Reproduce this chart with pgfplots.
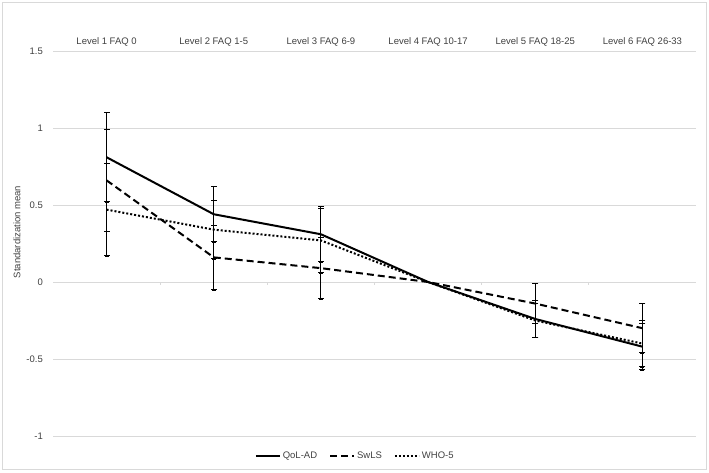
\documentclass[border=0pt]{standalone}
\usepackage{fontspec}
\setmainfont{Liberation Sans}
\usepackage{pgfplots}
\usepackage{pgfplotstable}
\pgfplotsset{compat=1.18}

\definecolor{gridgray}{RGB}{217,217,217}
\definecolor{txt}{RGB}{64,64,64}

% level, mean, error
\pgfplotstableread{
x y e
0 0.81 0.29
1 0.44 0.18
2 0.31 0.18
3 0.00 0.00
4 -0.24 0.12
5 -0.42 0.15
}\qol
\pgfplotstableread{
x y e
0 0.66 0.33
1 0.16 0.21
2 0.09 0.20
3 0.00 0.00
4 -0.14 0.13
5 -0.30 0.16
}\swls
\pgfplotstableread{
x y e
0 0.47 0.30
1 0.34 0.19
2 0.27 0.21
3 0.00 0.00
4 -0.25 0.11
5 -0.40 0.15
}\who

\newcommand{\lblfont}{\fontsize{9.5}{11}\selectfont}

\pgfplotsset{
  errbars/.style={forget plot, draw=none, mark=none,
    x filter/.expression={x==3 ? nan : x},
    error bars/.cd, y dir=both, y explicit,
    error bar style={draw=black, solid, line width=1pt}},
  caps/.style={forget plot, only marks, mark=-, mark size=3pt,
    mark options={draw=black, solid, line width=1pt},
    x filter/.expression={x==3 ? nan : x}},
}

\begin{document}
\begin{tikzpicture}[x=1pt,y=1pt]
\useasboundingbox (0,0) rectangle (709,472);
\draw[gridgray, line width=0.8pt] (2.5,2.5) rectangle (706.5,469.5);
\begin{axis}[
  at={(53pt,36pt)}, anchor=south west,
  scale only axis, width=643pt, height=385pt,
  xmin=-0.5, xmax=5.5, ymin=-1, ymax=1.5,
  ytick={-1,-0.5,0,0.5,1,1.5},
  yticklabels={-1,-0.5,0,0.5,1,1.5},
  xtick={0,1,2,3,4,5},
  xticklabels={Level 1 FAQ 0,Level 2 FAQ 1-5,Level 3 FAQ 6-9,Level 4 FAQ 10-17,Level 5 FAQ 18-25,Level 6 FAQ 26-33},
  xticklabel pos=upper,
  axis line style={draw=none},
  major tick length=0pt,
  ymajorgrids, grid style={gridgray, line width=0.9pt},
  tick label style={font=\lblfont, text=txt},
  yticklabel style={inner sep=0pt, xshift=-10pt},
  xticklabel style={inner sep=0pt, yshift=5pt},
  legend columns=3,
  legend cell align=left,
  legend image code/.code={\draw[#1] (0pt,0pt) -- (24pt,0pt);},
  legend style={at={(0.47,-0.052)}, anchor=center, draw=none, fill=none,
    font=\lblfont, text=txt, inner sep=0pt,
    /tikz/every even column/.append style={column sep=10pt}},
  clip=false,
]
\pgfplotsinvokeforeach{0.5,1.5,2.5,3.5,4.5}{
  \draw[gridgray, line width=0.8pt] (axis cs:#1,0) -- ++(0pt,-3pt);
}
\addplot[black, line width=2pt, mark=none] table[x=x, y=y] {\qol};
\addplot[black, line width=2pt, mark=none, dash pattern=on 7pt off 4pt] table[x=x, y=y] {\swls};
\addplot[black, line width=2pt, mark=none, dash pattern=on 2pt off 2pt] table[x=x, y=y] {\who};
\legend{QoL-AD, SwLS, WHO-5}
% error bars and their caps
\addplot[errbars] table[x=x, y=y, y error=e] {\qol};
\addplot[errbars] table[x=x, y=y, y error=e] {\swls};
\addplot[errbars] table[x=x, y=y, y error=e] {\who};
\addplot[caps] table[x=x, y expr=\thisrow{y}+\thisrow{e}] {\qol};
\addplot[caps] table[x=x, y expr=\thisrow{y}-\thisrow{e}] {\qol};
\addplot[caps] table[x=x, y expr=\thisrow{y}+\thisrow{e}] {\swls};
\addplot[caps] table[x=x, y expr=\thisrow{y}-\thisrow{e}] {\swls};
\addplot[caps] table[x=x, y expr=\thisrow{y}+\thisrow{e}] {\who};
\addplot[caps] table[x=x, y expr=\thisrow{y}-\thisrow{e}] {\who};
\end{axis}
\node[rotate=90, font=\lblfont, text=txt] at (17,240) {Standardization mean};
\end{tikzpicture}
\end{document}
